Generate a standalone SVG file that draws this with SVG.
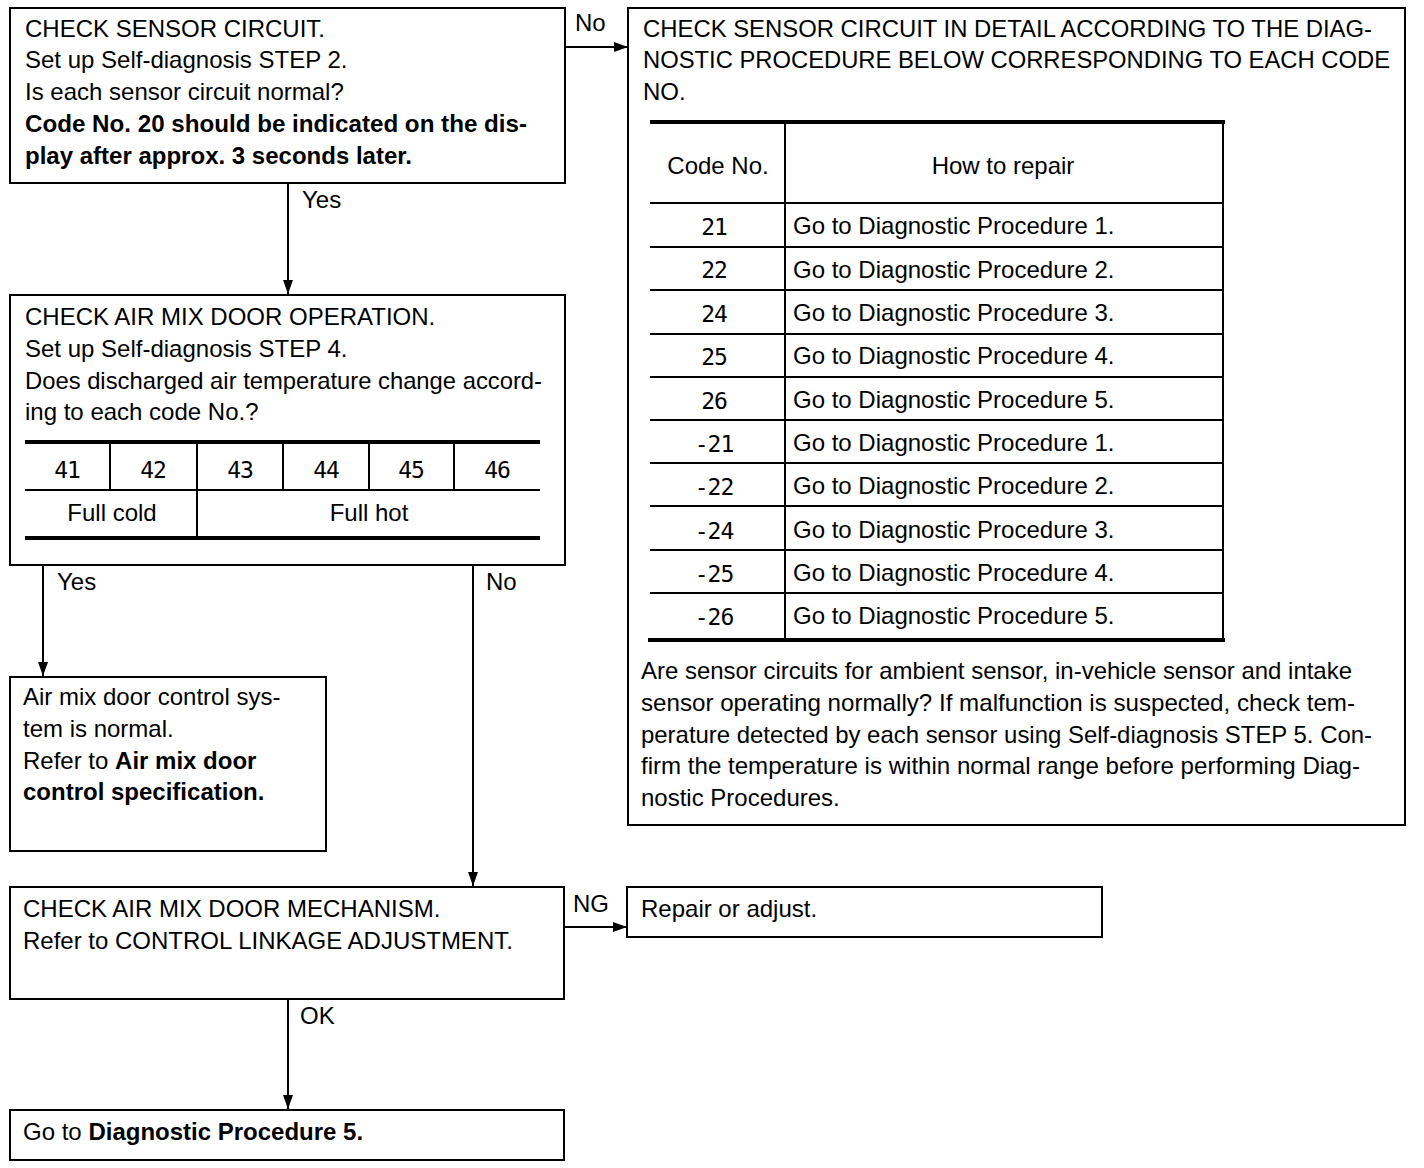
<svg xmlns="http://www.w3.org/2000/svg" width="1424" height="1168" viewBox="0 0 1424 1168">
<style>
text{font-family:"Liberation Sans",Arial,sans-serif;font-size:24px;fill:#000}
.b{font-weight:bold}
.c{text-anchor:middle}
.seg{font-family:"DejaVu Sans Mono",monospace;font-size:23px;text-anchor:middle;letter-spacing:-1px}
.box{fill:#fff;stroke:#000;stroke-width:2}
.thin{stroke:#000;stroke-width:2;fill:none}
.thick{stroke:#000;stroke-width:4;fill:none}
.conn{stroke:#000;stroke-width:2;fill:none;marker-end:url(#ah)}
</style>
<defs>
<marker id="ah" markerWidth="14" markerHeight="10" refX="14" refY="5" orient="auto" markerUnits="userSpaceOnUse">
<path d="M0,0 L14,5 L0,10 Z" fill="#000"/>
</marker>
</defs>
<rect width="1424" height="1168" fill="#fff"/>

<g id="connectors">
<line class="conn" x1="565" y1="47" x2="628" y2="47"/>
<text x="575" y="31">No</text>
<line class="conn" x1="288" y1="183" x2="288" y2="294"/>
<text x="302" y="208">Yes</text>
<line class="conn" x1="43" y1="565" x2="43" y2="676"/>
<text x="57" y="590">Yes</text>
<line class="conn" x1="473" y1="565" x2="473" y2="886"/>
<text x="486" y="590">No</text>
<line class="conn" x1="564" y1="927" x2="627" y2="927"/>
<text x="573" y="912">NG</text>
<line class="conn" x1="288" y1="999" x2="288" y2="1109"/>
<text x="300" y="1024">OK</text>
</g>

<g id="n1">
<rect class="box" x="10" y="8" width="555" height="175"/>
<text x="25" y="37">CHECK SENSOR CIRCUIT.</text>
<text x="25" y="68">Set up Self-diagnosis STEP 2.</text>
<text x="25" y="100">Is each sensor circuit normal?</text>
<text class="b" x="25" y="132" textLength="502" lengthAdjust="spacingAndGlyphs">Code No. 20 should be indicated on the dis-</text>
<text class="b" x="25" y="164" textLength="387" lengthAdjust="spacingAndGlyphs">play after approx. 3 seconds later.</text>
</g>

<g id="n2">
<rect class="box" x="10" y="295" width="555" height="270"/>
<text x="25" y="325">CHECK AIR MIX DOOR OPERATION.</text>
<text x="25" y="357">Set up Self-diagnosis STEP 4.</text>
<text x="25" y="389" textLength="517" lengthAdjust="spacingAndGlyphs">Does discharged air temperature change accord-</text>
<text x="25" y="420">ing to each code No.?</text>
<line class="thick" x1="25" y1="442" x2="540" y2="442"/>
<line class="thin" x1="25" y1="490" x2="540" y2="490"/>
<line class="thick" x1="25" y1="538" x2="540" y2="538"/>
<line class="thin" x1="110" y1="442" x2="110" y2="490"/>
<line class="thin" x1="197" y1="442" x2="197" y2="538"/>
<line class="thin" x1="283" y1="442" x2="283" y2="490"/>
<line class="thin" x1="369" y1="442" x2="369" y2="490"/>
<line class="thin" x1="454" y1="442" x2="454" y2="490"/>
<text class="seg" x="67" y="478">41</text>
<text class="seg" x="153" y="478">42</text>
<text class="seg" x="240" y="478">43</text>
<text class="seg" x="326" y="478">44</text>
<text class="seg" x="411" y="478">45</text>
<text class="seg" x="497" y="478">46</text>
<text class="c" x="112" y="521">Full cold</text>
<text class="c" x="369" y="521">Full hot</text>
</g>

<g id="n3">
<rect class="box" x="10" y="677" width="316" height="174"/>
<text x="23" y="705">Air mix door control sys-</text>
<text x="23" y="737">tem is normal.</text>
<text x="23" y="769">Refer to <tspan class="b">Air mix door</tspan></text>
<text class="b" x="23" y="800">control specification.</text>
</g>

<g id="n4">
<rect class="box" x="10" y="887" width="554" height="112"/>
<text x="23" y="917">CHECK AIR MIX DOOR MECHANISM.</text>
<text x="23" y="949">Refer to CONTROL LINKAGE ADJUSTMENT.</text>
</g>

<g id="n5">
<rect class="box" x="627" y="887" width="475" height="50"/>
<text x="641" y="917">Repair or adjust.</text>
</g>

<g id="n6">
<rect class="box" x="10" y="1110" width="554" height="50"/>
<text x="23" y="1140">Go to <tspan class="b">Diagnostic Procedure 5.</tspan></text>
</g>

<g id="n7">
<rect class="box" x="628" y="8" width="777" height="817"/>
<text x="643" y="37" textLength="729" lengthAdjust="spacingAndGlyphs">CHECK SENSOR CIRCUIT IN DETAIL ACCORDING TO THE DIAG-</text>
<text x="643" y="68" textLength="747" lengthAdjust="spacingAndGlyphs">NOSTIC PROCEDURE BELOW CORRESPONDING TO EACH CODE</text>
<text x="643" y="100">NO.</text>
<line class="thick" x1="650" y1="122" x2="1225" y2="122"/>
<line class="thin" x1="1223" y1="122" x2="1223" y2="640"/>
<line class="thin" x1="785" y1="122" x2="785" y2="640"/>
<line class="thin" x1="650" y1="203" x2="1223" y2="203"/>
<line class="thin" x1="650" y1="247" x2="1223" y2="247"/>
<line class="thin" x1="650" y1="290" x2="1223" y2="290"/>
<line class="thin" x1="650" y1="334" x2="1223" y2="334"/>
<line class="thin" x1="650" y1="377" x2="1223" y2="377"/>
<line class="thin" x1="650" y1="420" x2="1223" y2="420"/>
<line class="thin" x1="650" y1="463" x2="1223" y2="463"/>
<line class="thin" x1="650" y1="506" x2="1223" y2="506"/>
<line class="thin" x1="650" y1="550" x2="1223" y2="550"/>
<line class="thin" x1="650" y1="593" x2="1223" y2="593"/>
<line class="thick" x1="648" y1="640" x2="1225" y2="640"/>
<text class="c" x="718" y="174">Code No.</text>
<text class="c" x="1003" y="174">How to repair</text>
<text class="seg" x="714" y="235">21</text>
<text class="seg" x="714" y="278">22</text>
<text class="seg" x="714" y="322">24</text>
<text class="seg" x="714" y="365">25</text>
<text class="seg" x="714" y="409">26</text>
<text class="seg" x="714" y="452">-21</text>
<text class="seg" x="714" y="495">-22</text>
<text class="seg" x="714" y="539">-24</text>
<text class="seg" x="714" y="582">-25</text>
<text class="seg" x="714" y="625">-26</text>
<text x="793" y="234">Go to Diagnostic Procedure 1.</text>
<text x="793" y="278">Go to Diagnostic Procedure 2.</text>
<text x="793" y="321">Go to Diagnostic Procedure 3.</text>
<text x="793" y="364">Go to Diagnostic Procedure 4.</text>
<text x="793" y="408">Go to Diagnostic Procedure 5.</text>
<text x="793" y="451">Go to Diagnostic Procedure 1.</text>
<text x="793" y="494">Go to Diagnostic Procedure 2.</text>
<text x="793" y="538">Go to Diagnostic Procedure 3.</text>
<text x="793" y="581">Go to Diagnostic Procedure 4.</text>
<text x="793" y="624">Go to Diagnostic Procedure 5.</text>
<text x="641" y="679" textLength="711" lengthAdjust="spacingAndGlyphs">Are sensor circuits for ambient sensor, in-vehicle sensor and intake</text>
<text x="641" y="711" textLength="714" lengthAdjust="spacingAndGlyphs">sensor operating normally? If malfunction is suspected, check tem-</text>
<text x="641" y="743" textLength="731" lengthAdjust="spacingAndGlyphs">perature detected by each sensor using Self-diagnosis STEP 5. Con-</text>
<text x="641" y="774" textLength="719" lengthAdjust="spacingAndGlyphs">firm the temperature is within normal range before performing Diag-</text>
<text x="641" y="806">nostic Procedures.</text>
</g>
</svg>
